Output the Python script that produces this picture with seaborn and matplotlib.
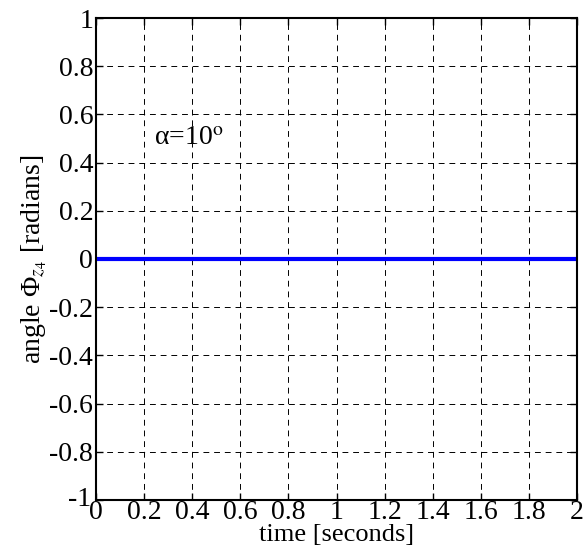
import matplotlib
matplotlib.use("Agg")
import matplotlib.pyplot as plt
import matplotlib.transforms as mtransforms
import seaborn as sns
import numpy as np
import pandas as pd

# data
time_s = [0.0, 0.5, 1.0, 1.5, 2.0]
phi_z4 = [0.0, 0.0, 0.0, 0.0, 0.0]
x_ticks = [0, 0.2, 0.4, 0.6, 0.8, 1, 1.2, 1.4, 1.6, 1.8, 2]
x_tick_labels = ["0", "0.2", "0.4", "0.6", "0.8", "1", "1.2", "1.4", "1.6", "1.8", "2"]
y_ticks = [-1, -0.8, -0.6, -0.4, -0.2, 0, 0.2, 0.4, 0.6, 0.8, 1]
y_tick_labels = ["-1", "-0.8", "-0.6", "-0.4", "-0.2", "0", "0.2", "0.4", "0.6", "0.8", "1"]

sns.set_style("ticks")
plt.rcParams['font.family'] = ['Liberation Serif', 'DejaVu Serif']
plt.rcParams['mathtext.fontset'] = 'stix'
plt.rcParams['axes.unicode_minus'] = False
plt.rcParams['text.color'] = 'black'
plt.rcParams['axes.labelcolor'] = 'black'

df = pd.DataFrame({"time": time_s, "phi": phi_z4})

fig = plt.figure(figsize=(5.88, 5.52), dpi=100)
ax = fig.add_axes([96/588, 1-500/552, (577-96)/588, (500-18)/552])
sns.lineplot(data=df, x="time", y="phi", ax=ax, color="#0000ff", linewidth=3)

ax.set_xlim(0, 2)
ax.set_ylim(-1, 1)
ax.set_xticks(x_ticks)
ax.set_xticklabels(x_tick_labels)
ax.set_yticks(y_ticks)
ax.set_yticklabels(y_tick_labels)
ax.grid(True, linestyle=(0, (6, 5)), color="black", linewidth=0.7)
ax.tick_params(direction="in", length=5, width=1, top=True, right=True,
               labelsize=20, pad=2, colors="black")
ax.tick_params(axis="x", pad=0)
for s in ax.spines.values():
    s.set_linewidth(1.5)
    s.set_color("black")
    s.set_visible(True)

# nudge the bottom "-1" label slightly up/left so it clears the x "0"
lbl = ax.get_yticklabels()[0]
lbl.set_transform(lbl.get_transform() +
                  mtransforms.ScaledTranslation(-2/100, 3/100, fig.dpi_scale_trans))

ax.set_xlabel("time [seconds]", fontsize=19, labelpad=-1)
ax.set_ylabel("angle Φ$_{z_4}$ [radians]", fontsize=20, labelpad=0)
ax.text(0.24, 0.5, "α=10$^\\mathrm{o}$", fontsize=20, va="center", ha="left")

fig.savefig("out.png", dpi=100)
